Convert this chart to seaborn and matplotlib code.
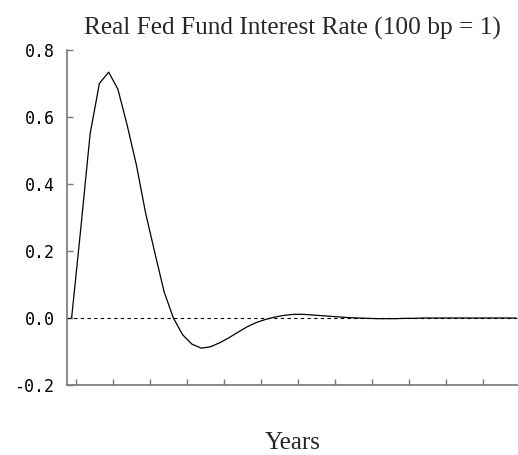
import numpy as np
import pandas as pd
import seaborn as sns
import matplotlib.pyplot as plt

# --- data: quarterly response ---
quarters = list(range(49))
rate = [0.000, 0.270, 0.550, 0.700, 0.734, 0.683, 0.576, 0.457, 0.313, 0.194,
        0.078, 0.000, -0.050, -0.078, -0.090, -0.086, -0.074, -0.059, -0.042, -0.026,
        -0.013, -0.004, 0.003, 0.008, 0.011, 0.011, 0.009, 0.007, 0.005, 0.003,
        0.001, 0.000, -0.001, -0.002, -0.002, -0.002, -0.001, -0.001, 0.000, 0.000,
        0.000, 0.000, 0.000, 0.000, 0.000, 0.000, 0.000, 0.000, 0.000]
year_ticks = [0.5 + 4 * k for k in range(12)]
y_ticks = [-0.2, 0.0, 0.2, 0.4, 0.6, 0.8]

df = pd.DataFrame({"Quarter": quarters, "Rate": rate})

sns.set_style("ticks")
plt.rcParams['font.family'] = ['DejaVu Sans Mono']

fig = plt.figure(figsize=(5.18, 4.55), dpi=100)
ax = fig.add_axes([67 / 518, 1 - 385 / 455, 451 / 518, 335 / 455])

ax.axhline(0, color='black', linestyle=(0, (3, 3)), linewidth=0.8)
sns.lineplot(data=df, x="Quarter", y="Rate", color='black', linewidth=0.9, ax=ax)

ax.set_xlim(-0.5, 48.25)
ax.set_ylim(-0.2, 0.8)
ax.set_xticks(year_ticks)
ax.set_xticklabels([])
ax.set_yticks(y_ticks)
ax.set_yticklabels([f"{v:.1f}" for v in y_ticks])

for side in ['top', 'right']:
    ax.spines[side].set_visible(False)
for side in ['left', 'bottom']:
    ax.spines[side].set_color('#777777')
    ax.spines[side].set_linewidth(1.2)
ax.tick_params(direction='in', length=4, width=1, color='#777777',
               labelsize=12, labelcolor='black', pad=9)

serif = ['Liberation Serif', 'DejaVu Serif']
ax.set_title("Real Fed Fund Interest Rate (100 bp = 1)", family=serif,
             fontsize=18.3, pad=11)
ax.set_xlabel("Years", family=serif, fontsize=18, labelpad=25)
ax.set_ylabel("")

fig.savefig("out.png", dpi=100)
